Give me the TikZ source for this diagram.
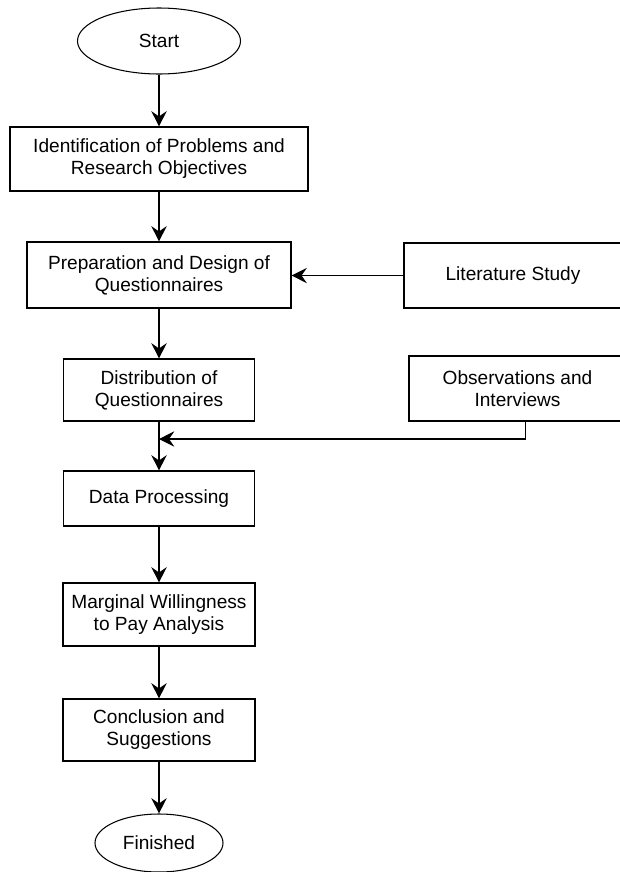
\documentclass[tikz,border=0pt]{standalone}
\usepackage{fontspec}
\setmainfont{Liberation Sans}
\usetikzlibrary{shapes.geometric,arrows.meta}

\begin{document}
\begin{tikzpicture}[x=0.3mm,y=-0.3mm,
    texto/.style={font=\fontsize{16.3}{18.7}\selectfont},
    caja/.style={texto,draw,line width=0.9pt,align=center,inner sep=0pt},
    ovalo/.style={texto,draw,ellipse,line width=0.9pt,inner sep=0pt},
    flecha/.style={-{Stealth[length=4.6mm,width=4.6mm,inset=1.6mm]},line width=0.9pt}]
    \useasboundingbox (0,0) rectangle (620,872);

    % ~~~~ Inicio ~~~~ %
    \node[ovalo,minimum width=48.9mm,minimum height=19.8mm] (inicio) at (159,41) {Start};

    % ~~~~ Columna principal ~~~~ %
    \node[caja,minimum width=89.4mm,minimum height=19.2mm] (ident) at (159,159)
        {Identification of Problems and\\Research Objectives};
    \node[caja,minimum width=79.2mm,minimum height=19.8mm] (prep) at (159,275)
        {Preparation and Design of\\Questionnaires};
    \node[caja,minimum width=57.3mm,minimum height=18.6mm] (dist) at (159,390)
        {Distribution of\\Questionnaires};
    \node[caja,minimum width=57.3mm,minimum height=16.5mm] (datos) at (159,498.5)
        {Data Processing};
    \node[caja,minimum width=57.6mm,minimum height=18.9mm] (marg) at (159,614.5)
        {Marginal Willingness\\to Pay Analysis};
    \node[caja,minimum width=57.6mm,minimum height=18.6mm] (concl) at (159,730)
        {Conclusion and\\Suggestions};

    % ~~~~ Fin ~~~~ %
    \node[ovalo,minimum width=38.4mm,minimum height=17.4mm] (fin) at (159,843) {Finished};

    % ~~~~ Entradas laterales ~~~~ %
    \node[caja,minimum width=65.4mm,minimum height=19.5mm] (lit) at (513,275.5)
        {Literature Study};
    \node[caja,minimum width=65.1mm,minimum height=19.5mm] (obs) at (517.5,388.5)
        {Observations and\\Interviews};
    \coordinate (union) at (159,439);

    % ~~~~ Flechas ~~~~ %
    \draw[flecha] (inicio) -- (ident);
    \draw[flecha] (ident) -- (prep);
    \draw[flecha] (prep) -- (dist);
    \draw[flecha] (dist) -- (datos);
    \draw[flecha] (datos) -- (marg);
    \draw[flecha] (marg) -- (concl);
    \draw[flecha] (concl) -- (fin);
    \draw[flecha] (lit.west) -- (lit.west -| prep.east);
    \draw[flecha] ([xshift=2.5mm]obs.south) |- (union);
\end{tikzpicture}
\end{document}
